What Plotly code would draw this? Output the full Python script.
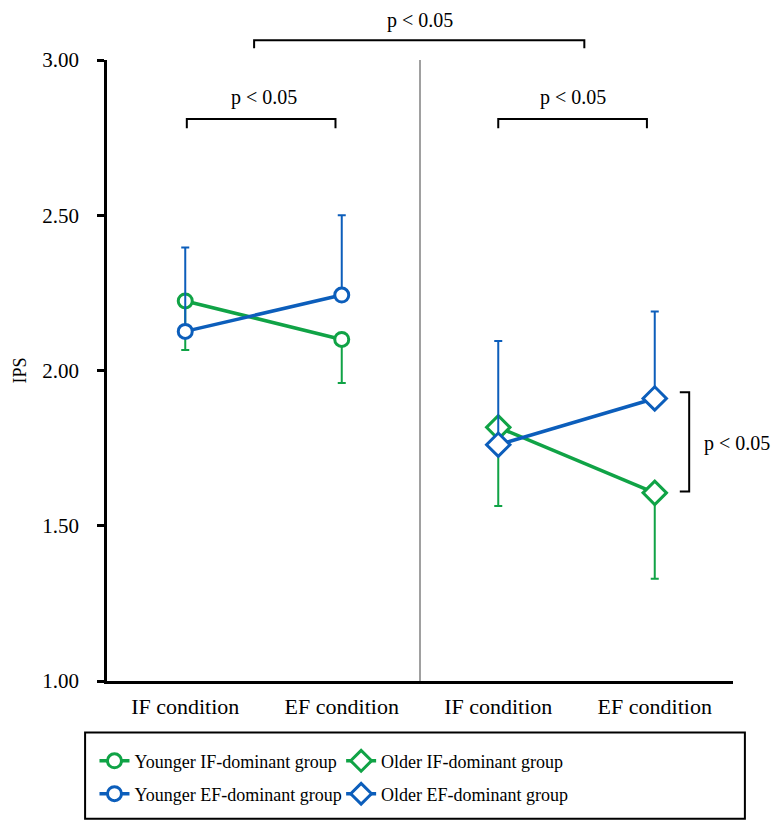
import plotly.graph_objects as go

# Data
conditions = ["IF condition", "EF condition", "IF condition", "EF condition"]

young_if_mean = [2.224, 2.100]
young_if_err = [0.158, 0.140]      # lower SD only
young_ef_mean = [2.126, 2.243]
young_ef_err = [0.270, 0.257]      # upper SD only

old_if_mean = [1.817, 1.606]
old_if_err = [0.253, 0.277]        # lower SD only
old_ef_mean = [1.761, 1.910]
old_ef_err = [0.334, 0.280]        # upper SD only

GREEN = "#10A346"
BLUE = "#0C5EBB"
FONT = "Liberation Serif"

fig = go.Figure()


def add_group(x, y, err, color, symbol, size, name, legend, down):
    zeros = [0] * len(err)
    fig.add_trace(go.Scatter(
        x=x, y=y, name=name, legend=legend,
        mode="lines+markers",
        line=dict(color=color, width=3.5),
        marker=dict(symbol=symbol, size=size, color="white",
                    line=dict(color=color, width=3)),
        error_y=dict(type="data", symmetric=False,
                     array=zeros if down else err,
                     arrayminus=err if down else zeros,
                     color=color, thickness=2, width=4),
    ))


# green drawn first so the blue lines sit on top
add_group([0, 1], young_if_mean, young_if_err, GREEN, "circle", 14,
          "Younger IF-dominant group", "legend", True)
add_group([2, 3], old_if_mean, old_if_err, GREEN, "diamond", 18,
          "Older IF-dominant group", "legend2", True)
add_group([0, 1], young_ef_mean, young_ef_err, BLUE, "circle", 14,
          "Younger EF-dominant group", "legend3", False)
add_group([2, 3], old_ef_mean, old_ef_err, BLUE, "diamond", 18,
          "Older EF-dominant group", "legend4", False)

# grey divider between younger and older
fig.add_shape(type="line", x0=1.5, x1=1.5, y0=1.0, y1=3.0,
              xref="x", yref="y", line=dict(color="#A0A0A0", width=2))

blk = dict(color="black", width=2)


def hbracket(x0, x1, y, tip, yref):
    fig.add_shape(type="path", xref="x", yref=yref, line=blk,
                  path=f"M {x0} {y - tip} L {x0} {y} L {x1} {y} L {x1} {y - tip}")


hbracket(0.01, 0.96, 2.81, 0.03, "y")
hbracket(2.0, 2.95, 2.81, 0.03, "y")
hbracket(0.44, 2.55, 1.032, 0.013, "paper")

# vertical bracket on the right (paper x, data y)
fig.add_shape(type="path", xref="paper", yref="y", line=blk,
              path="M 0.915 1.93 L 0.93 1.93 L 0.93 1.61 L 0.915 1.61")

# legend frame
fig.add_shape(type="rect", xref="paper", yref="paper",
              x0=-0.035, x1=1.019, y0=-0.222, y1=-0.083,
              line=dict(color="black", width=2))

txt = dict(family=FONT, size=20, color="black")
mid = dict(showarrow=False, font=txt, xanchor="center", yanchor="middle")
fig.add_annotation(x=0.5, y=2.88, text="p < 0.05", **mid)
fig.add_annotation(x=2.48, y=2.88, text="p < 0.05", **mid)
fig.add_annotation(x=1.5, y=1.064, yref="paper", text="p < 0.05", **mid)
fig.add_annotation(x=1.006, xref="paper", y=1.765, text="p < 0.05", **mid)
fig.add_annotation(x=-0.139, xref="paper", y=2.0, text="IPS", showarrow=False,
                   xanchor="center", yanchor="middle", textangle=-90,
                   font=dict(family=FONT, size=18, color="black"))

leg = dict(orientation="h", xanchor="left", yanchor="middle",
           bgcolor="rgba(0,0,0,0)", borderwidth=0,
           font=dict(family=FONT, size=18), itemwidth=30)

# page body adds an 8px offset, so the figure is 16px smaller than the window
fig.update_layout(
    width=764, height=816,
    margin=dict(l=99, r=39, t=52, b=138),
    plot_bgcolor="white", paper_bgcolor="white",
    font=dict(family=FONT, size=20, color="black"),
    showlegend=True,
    legend=dict(leg, x=-0.02, y=-0.129),
    legend2=dict(leg, x=0.374, y=-0.129),
    legend3=dict(leg, x=-0.02, y=-0.182),
    legend4=dict(leg, x=0.374, y=-0.182),
    xaxis=dict(range=[-0.5, 3.5], tickmode="array", tickvals=[0, 1, 2, 3],
               ticktext=conditions, showline=True, linecolor="black",
               linewidth=2.5, ticks="", showgrid=False, zeroline=False,
               ticklabelstandoff=4,
               tickfont=dict(family=FONT, size=22)),
    yaxis=dict(range=[1.0, 3.0], tickvals=[1.0, 1.5, 2.0, 2.5, 3.0],
               tickformat=".2f", showline=True, linecolor="black",
               linewidth=2.5, ticks="outside", ticklen=7, tickwidth=2.5,
               tickcolor="black", showgrid=False, zeroline=False,
               ticklabelstandoff=14,
               tickfont=dict(family=FONT, size=21)),
)

fig.write_html("out.html")
